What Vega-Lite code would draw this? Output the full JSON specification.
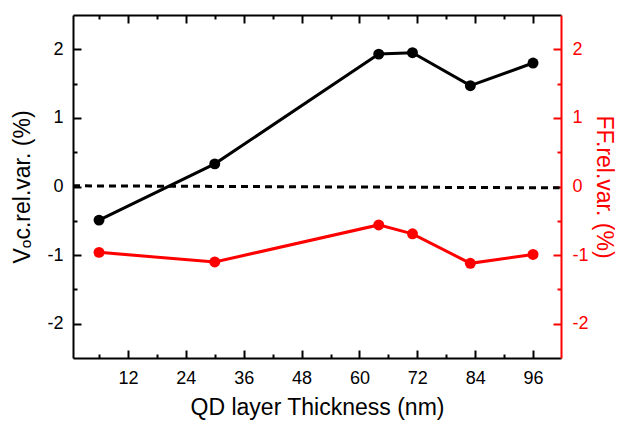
{
  "$schema": "https://vega.github.io/schema/vega-lite/v6.json",
  "width": 488,
  "height": 343,
  "autosize": {"type": "none"},
  "padding": {"left": 73, "top": 15, "right": 58, "bottom": 67},
  "background": "white",
  "config": {
    "view": {"stroke": null},
    "axis": {"labelFont": "Liberation Sans", "titleFont": "Liberation Sans", "labelFontSize": 18, "titleFontSize": 23, "titleFontWeight": "normal", "grid": false, "domainWidth": 2, "tickWidth": 2, "domainColor": "black", "tickColor": "black", "labelColor": "black", "titleColor": "black", "labelExpr": "replace(datum.label, '\u2212', '-')"}
  },
  "datasets": {
    "voc": [
      {"t": 6, "v": -0.49},
      {"t": 30, "v": 0.33},
      {"t": 64, "v": 1.93},
      {"t": 71, "v": 1.95},
      {"t": 83, "v": 1.47},
      {"t": 96, "v": 1.80}
    ],
    "ff": [
      {"t": 6, "v": -0.96},
      {"t": 30, "v": -1.10},
      {"t": 64, "v": -0.56},
      {"t": 71, "v": -0.69},
      {"t": 83, "v": -1.12},
      {"t": 96, "v": -0.99}
    ],
    "zero": [
      {"t": 0.6, "v": 0.01},
      {"t": 101.5, "v": -0.02}
    ]
  },
  "resolve": {"axis": {"x": "independent", "y": "independent"}},
  "layer": [
    {
      "data": {"name": "zero"},
      "mark": {"type": "line", "color": "black", "strokeWidth": 3, "strokeDash": [7, 5]},
      "encoding": {
        "x": {"field": "t", "type": "quantitative", "scale": {"domain": [0.6, 101.8], "nice": false, "zero": false}, "axis": null},
        "y": {"field": "v", "type": "quantitative", "scale": {"domain": [-2.5, 2.5], "nice": false}, "axis": null}
      }
    },
    {
      "data": {"name": "voc"},
      "mark": {"type": "line", "color": "black", "strokeWidth": 3},
      "encoding": {
        "x": {"field": "t", "type": "quantitative", "axis": {"orient": "bottom", "values": [12, 24, 36, 48, 60, 72, 84, 96], "tickSize": -8, "labelPadding": 19, "title": "QD layer Thickness (nm)", "titlePadding": 9}},
        "y": {"field": "v", "type": "quantitative", "axis": {"orient": "left", "values": [-2, -1, 0, 1, 2], "tickSize": -8, "labelPadding": 18, "title": "Vₒc.rel.var. (%)", "titlePadding": 12}}
      }
    },
    {
      "data": {"name": "voc"},
      "mark": {"type": "point", "filled": true, "color": "black", "size": 120, "opacity": 1},
      "encoding": {
        "x": {"field": "t", "type": "quantitative", "axis": {"orient": "bottom", "values": [6, 18, 30, 42, 54, 66, 78, 90], "tickSize": -4, "labels": false, "title": null, "domain": false}},
        "y": {"field": "v", "type": "quantitative", "axis": {"orient": "left", "values": [-1.5, -0.5, 0.5, 1.5], "tickSize": -4, "labels": false, "title": null, "domain": false}}
      }
    },
    {
      "data": {"name": "ff"},
      "mark": {"type": "line", "color": "#ff0000", "strokeWidth": 3},
      "encoding": {
        "x": {"field": "t", "type": "quantitative", "axis": {"orient": "top", "values": [12, 24, 36, 48, 60, 72, 84, 96], "tickSize": -8, "labels": false, "title": null}},
        "y": {"field": "v", "type": "quantitative", "axis": {"orient": "right", "values": [-2, -1, 0, 1, 2], "tickSize": -8, "labelPadding": 19, "domainColor": "#ff0000", "tickColor": "#ff0000", "labelColor": "#ff0000", "titleColor": "#ff0000", "title": "FF.rel.var.  (%)", "titlePadding": 3}}
      }
    },
    {
      "data": {"name": "ff"},
      "mark": {"type": "point", "filled": true, "color": "#ff0000", "size": 120, "opacity": 1},
      "encoding": {
        "x": {"field": "t", "type": "quantitative", "axis": {"orient": "top", "values": [6, 18, 30, 42, 54, 66, 78, 90], "tickSize": -4, "labels": false, "title": null, "domain": false}},
        "y": {"field": "v", "type": "quantitative", "axis": {"orient": "right", "values": [-1.5, -0.5, 0.5, 1.5], "tickSize": -4, "labels": false, "title": null, "domain": false, "tickColor": "#ff0000"}}
      }
    }
  ]
}
